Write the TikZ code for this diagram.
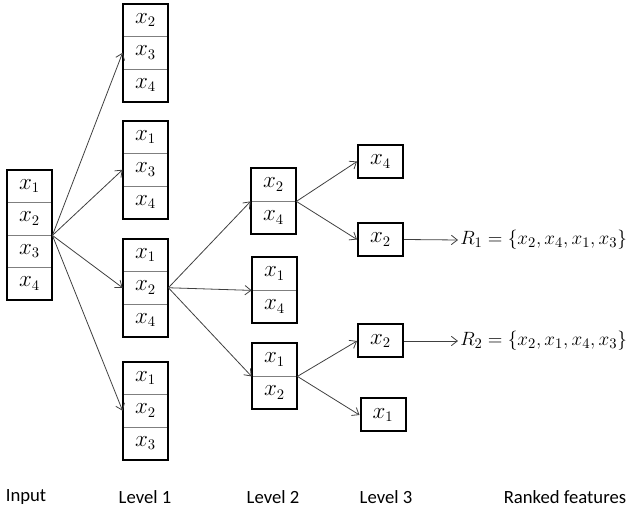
\documentclass[tikz,border=0pt]{standalone}
\usepackage{fontspec}
\newfontfamily\labelfont{Carlito}
\usetikzlibrary{arrows.meta}
\definecolor{linegray}{HTML}{404040}
\definecolor{divgray}{HTML}{7F7F7F}
\tikzset{
  cell/.style={draw=divgray, line width=0.6pt, inner sep=0pt,
    minimum width=33.75pt, minimum height=24.4pt,
    font=\fontsize{16}{19}\selectfont},
  tallcell/.style={cell, minimum height=24.75pt},
  frame/.style={draw=black, line width=1.5pt},
  link/.style={draw=linegray, line width=0.6pt,
    -{Straight Barb[length=4.5pt,width=7pt]}},
  result/.style={inner sep=1.5pt, anchor=west, font=\fontsize{15}{18}\selectfont},
  level/.style={font=\labelfont\fontsize{14}{17}\selectfont}
}
\begin{document}
\begin{tikzpicture}[x=0.75pt, y=-0.75pt]
\useasboundingbox (0,0) rectangle (633,513);

% input column
\node[cell] (in1) at (29.5,186.25) {$x_1$};
\node[cell] (in2) at (29.5,218.75) {$x_2$};
\node[cell] (in3) at (29.5,251.25) {$x_3$};
\node[cell] (in4) at (29.5,283.75) {$x_4$};
\draw[frame] (in1.north west) rectangle (in4.south east);

% level 1 columns
\node[cell] (a1) at (145.5,20.25) {$x_2$};
\node[cell] (a2) at (145.5,52.75) {$x_3$};
\node[cell] (a3) at (145.5,85.25) {$x_4$};
\draw[frame] (a1.north west) rectangle (a3.south east);

\node[cell] (b1) at (145.5,137.25) {$x_1$};
\node[cell] (b2) at (145.5,169.75) {$x_3$};
\node[cell] (b3) at (145.5,202.25) {$x_4$};
\draw[frame] (b1.north west) rectangle (b3.south east);

\node[cell] (c1) at (145.5,255.25) {$x_1$};
\node[cell] (c2) at (145.5,287.75) {$x_2$};
\node[cell] (c3) at (145.5,320.25) {$x_4$};
\draw[frame] (c1.north west) rectangle (c3.south east);

\node[cell] (d1) at (145.5,378.25) {$x_1$};
\node[cell] (d2) at (145.5,410.75) {$x_2$};
\node[cell] (d3) at (145.5,443.25) {$x_3$};
\draw[frame] (d1.north west) rectangle (d3.south east);

% level 2 columns
\node[tallcell] (e1) at (273.5,184.5) {$x_2$};
\node[tallcell] (e2) at (273.5,217.5) {$x_4$};
\draw[frame] (e1.north west) rectangle (e2.south east);

\node[tallcell] (f1) at (274.5,273.5) {$x_1$};
\node[tallcell] (f2) at (274.5,306.5) {$x_4$};
\draw[frame] (f1.north west) rectangle (f2.south east);

\node[tallcell] (g1) at (274.5,359.5) {$x_1$};
\node[tallcell] (g2) at (274.5,392.5) {$x_2$};
\draw[frame] (g1.north west) rectangle (g2.south east);

% level 3 boxes
\node[tallcell, frame] (h) at (380.5,161.5) {$x_4$};
\node[tallcell, frame] (i) at (380.5,239.5) {$x_2$};
\node[tallcell, frame] (j) at (380.5,341) {$x_2$};
\node[tallcell, frame] (k) at (383,415) {$x_1$};

% ranked results
\node[result] (r1) at (458,240) {$R_1 = \{x_2, x_4, x_1, x_3\}$};
\node[result] (r2) at (458,341) {$R_2 = \{x_2, x_1, x_4, x_3\}$};

% connectors
\foreach \t in {a2,b2,c2,d2} \draw[link] (in2.south east) -- (\t.west);
\foreach \t in {e1,f1,g1} \draw[link] (c2.east) -- (\t.south west);
\foreach \t in {h,i} \draw[link] (e1.south east) -- (\t.west);
\foreach \t in {j,k} \draw[link] (g1.south east) -- (\t.west);
\draw[link] (i.east) -- (r1.west);
\draw[link] (j.east) -- (r2.west);

% level captions
\node[level] (cap0) at (26,497) {Input};
\node[level] (cap1) at (145,497) {Level 1};
\node[level] (cap2) at (273,497) {Level 2};
\node[level] (cap3) at (386,497) {Level 3};
\node[level] (cap4) at (565,497) {Ranked features};
\end{tikzpicture}
\end{document}
